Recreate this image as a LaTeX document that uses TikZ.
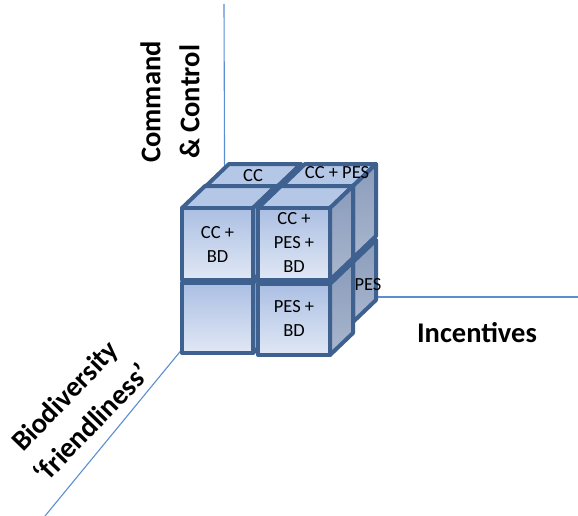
\documentclass[tikz,border=0pt]{standalone}
\usepackage{fontspec}
\setmainfont{Carlito}
\definecolor{edgeblue}{HTML}{3E6190}
\definecolor{axisblue}{HTML}{5B8ED1}
\definecolor{fronttop}{HTML}{ABBFE3}
\definecolor{frontbot}{HTML}{E1E8F5}
\definecolor{sidetop}{HTML}{8A9CBC}
\definecolor{sidebot}{HTML}{A9B6CD}
\definecolor{topface}{HTML}{B5C7E7}
\tikzset{
  axisline/.style={draw=axisblue, line width=1.1pt},
  facebase/.style={draw=edgeblue, line width=4pt, line join=round},
  frontface/.style={facebase, top color=fronttop, bottom color=frontbot},
  sideface/.style={facebase, top color=sidetop, bottom color=sidebot},
  upface/.style={facebase, fill=topface},
  axislabel/.style={font=\fontsize{28.5}{39}\selectfont\bfseries, align=center, inner sep=0pt},
  cubelabel/.style={font=\fontsize{18.5}{24}\selectfont, align=center, inner sep=0pt},
}
% depth offset of every box (to the right and upwards)
\def\dpx{23}
\def\dpy{22}
% #1,#2: top-left corner of the front face (y grows downwards), #3: width, #4: height
\newcommand\drawbox[4]{%
  \begin{scope}[shift={(#1,#2)}]
    \path[upface] (0,0) -- (#3,0) -- ++(\dpx,-\dpy) -- (\dpx,-\dpy) -- cycle;
    \path[sideface] (#3,0) -- ++(\dpx,-\dpy) -- ++(0,#4) -- (#3,#4) -- cycle;
    \path[frontface] (0,0) rectangle (#3,#4);
  \end{scope}}
\begin{document}
\begin{tikzpicture}[x=1pt, y=-1pt]
  \useasboundingbox (0,0) rectangle (578,516);

  % axes
  \coordinate (origin) at (225,297);
  \coordinate (upend) at (224,4);
  \coordinate (rightend) at (578,297);
  \coordinate (leftend) at (45,516);
  \draw[axisline] (origin) -- (upend);
  \draw[axisline] (origin) -- (rightend);
  \draw[axisline] (origin) -- (leftend);

  % back row
  \drawbox{282}{262}{71}{60}
  \drawbox{206}{186}{72}{72}
  \drawbox{282}{186}{71}{72}
  % front row
  \drawbox{182}{283}{71}{70}
  \drawbox{258}{284}{72}{71}
  \drawbox{182}{208}{71}{72}
  \drawbox{258}{208}{72}{72}

  % labels on the boxes
  \node[cubelabel] (cc) at (253,176) {CC};
  \node[cubelabel] (ccpes) at (337,173) {CC + PES};
  \node[cubelabel] (ccbd) at (217.5,244.5) {CC +\\BD};
  \node[cubelabel] (ccpesbd) at (294,242) {CC +\\PES +\\BD};
  \node[cubelabel] (pesbd) at (294,318.5) {PES +\\BD};
  \node[cubelabel] (pes) at (368,285) {PES};

  % axis titles
  \node[axislabel, rotate=90] (command) at (170,102) {Command\\\& Control};
  \node[axislabel] (incentives) at (477,333) {Incentives};
  \node[axislabel, rotate=46] (biodiv) at (66,397) {Biodiversity};
  \node[axislabel, rotate=46] (friendly) at (91,423) {‘friendliness’};
\end{tikzpicture}
\end{document}
